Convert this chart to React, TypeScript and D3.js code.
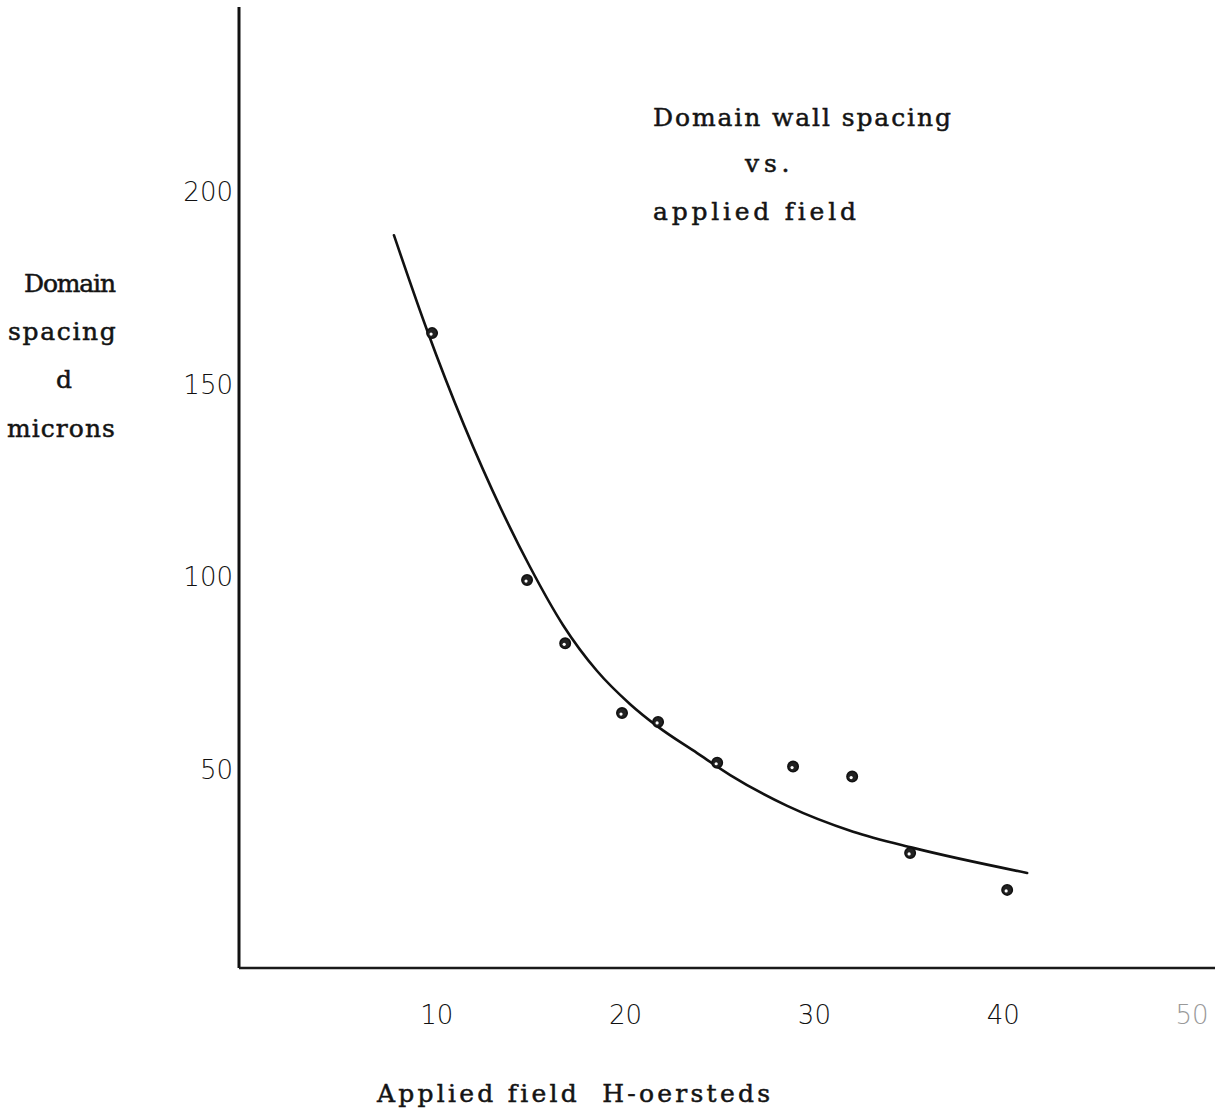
import React from "react";
import * as d3 from "d3";

// measured points (field H in oersteds, spacing d in microns)
const fieldH = [9.75, 14.78, 16.8, 19.81, 21.72, 24.85, 28.87, 32.0, 35.07, 40.21];
const spacingD = [163.4, 99.3, 82.9, 64.8, 62.5, 51.9, 50.9, 48.3, 28.5, 18.9];

// hand drawn fitted curve
const curveH = [7.73, 9.48, 14.94, 16.69, 18.49, 20.24, 21.67, 23.79, 25.54, 28.56, 32.05, 35.23, 41.27];
const curveD = [188.8, 164.2, 102.7, 87.6, 75.7, 67.1, 61.4, 54.4, 48.7, 40.7, 34.0, 29.8, 23.3];

const xTicks = [10, 20, 30, 40, 50];
const yTicks = [50, 100, 150, 200];

const titleLines = ["Domain wall spacing", "vs.", "applied field"];
const yLabelLines = ["Domain", "spacing", "d", "microns"];
const xLabel = "Applied field  H-oersteds";

const W = 1225;
const H = 1110;

const typeFace = "'DejaVu Serif', 'Liberation Serif', serif";
const sans = "'DejaVu Sans', 'Noto Sans', sans-serif";
const charW = 15.84; // typewriter pitch

const App = () => {
  const x = d3.scaleLinear().domain([0, 50]).range([248, 1192]);
  const y = d3.scaleLinear().domain([0, 200]).range([962.7, 192.1]);

  const axisX = 239;
  const axisY = 968;

  const curve = d3
    .line<number>()
    .x((d, i) => x(curveH[i]))
    .y((d) => y(d))
    .curve(d3.curveMonotoneX);

  const titleX = [653, 745, 653];
  const titleY = [126, 172, 220];
  const yLabX = [24, 8, 56, 7];
  const yLabY = [292, 340, 388, 437];

  // typed text, stretched to the typewriter pitch
  const typed = (s: string, tx: number, ty: number, key: string) => (
    <text key={key} x={tx} y={ty} fontFamily={typeFace} fontSize={25} fill="#141414"
      stroke="#141414" strokeWidth={0.5}
      textLength={s.length > 1 ? s.length * charW - 3 : undefined} lengthAdjust="spacing"
      style={{ whiteSpace: "pre", fontVariantLigatures: "none" }}>
      {s}
    </text>
  );

  return (
    <svg width={W} height={H} style={{ position: "absolute", left: 0, top: 0, background: "#fff" }}>
      <rect width={W} height={H} fill="#fff" />

      {/* axes */}
      <line x1={axisX} y1={7} x2={axisX} y2={axisY} stroke="#111" strokeWidth={3} />
      <line x1={axisX} y1={axisY} x2={1215} y2={axisY} stroke="#1a1a1a" strokeWidth={2.6} />

      {/* tick labels */}
      {yTicks.map((t) => (
        <text key={"y" + t} x={233} y={y(t)} textAnchor="end" dominantBaseline="central"
          fontFamily={sans} fontWeight={300} fontSize={26} fill="#111">
          {t}
        </text>
      ))}
      {xTicks.map((t) => (
        <text key={"x" + t} x={x(t)} y={1015} textAnchor="middle" dominantBaseline="central"
          fontFamily={sans} fontWeight={300} fontSize={26} fill={t === 50 ? "#999" : "#111"}>
          {t}
        </text>
      ))}

      {/* fitted curve */}
      <path d={curve(curveD) || ""} fill="none" stroke="#111" strokeWidth={2.6} strokeLinecap="round" />

      {/* data points */}
      {fieldH.map((h, i) => (
        <g key={"p" + i}>
          <circle cx={x(h)} cy={y(spacingD[i])} r={5.2} fill="#222" stroke="#111" strokeWidth={1.6} />
          <circle cx={x(h) - 1} cy={y(spacingD[i]) + 1} r={1.6} fill="#fff" />
        </g>
      ))}

      {/* title */}
      {titleLines.map((s, i) => typed(s, titleX[i], titleY[i], "t" + i))}

      {/* y label */}
      {yLabelLines.map((s, i) => typed(s, yLabX[i], yLabY[i], "l" + i))}

      {/* x label */}
      {typed(xLabel, 377, 1102, "xl")}
    </svg>
  );
};

export default App;
